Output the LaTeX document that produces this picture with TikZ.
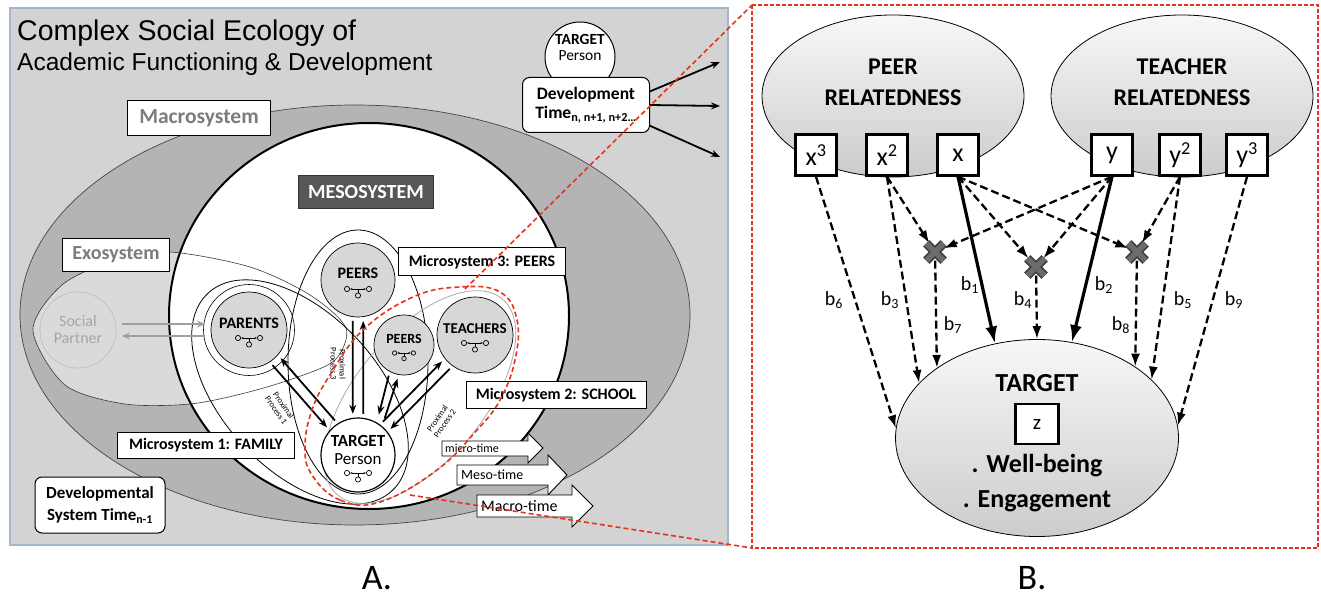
\documentclass[tikz,border=0pt]{standalone}
\usepackage{fontspec}
\setmainfont{Carlito}
\newfontfamily\titlefont{Liberation Sans}
\usetikzlibrary{arrows.meta,shapes.geometric}

\definecolor{panelgray}{HTML}{D3D3D3}
\definecolor{macrogray}{HTML}{B4B4B4}
\definecolor{exogray}{HTML}{DADADA}
\definecolor{actorgray}{HTML}{D7D7D7}
\definecolor{labelgray}{HTML}{7C7C7C}
\definecolor{mesogray}{HTML}{575757}
\definecolor{zoomred}{HTML}{E8331C}
\definecolor{frameblue}{HTML}{A3B5CB}

\newcommand{\fsz}[2]{\fontsize{#1}{#2}\selectfont}

\tikzset{
  sysbox/.style={draw, fill=white, line width=1pt, inner sep=0pt, font=\bfseries\fsz{16}{18}},
  graylbl/.style={sysbox, text=labelgray, font=\bfseries\fsz{21.5}{24}},
  actor/.style={circle, draw, fill=actorgray, line width=0.7pt, minimum size=76pt, inner sep=0pt},
  actorname/.style={inner sep=0pt, font=\bfseries\fsz{16}{18}},
  procarrow/.style={line width=1.8pt, -{Stealth[length=9pt,width=7pt]}, shorten >=4pt, shorten <=4pt},
  sparrow/.style={gray!75, line width=2pt, -{Stealth[length=8pt,width=7pt]}, shorten >=6pt, shorten <=6pt},
  futarrow/.style={line width=1.8pt, -{Stealth[length=9pt,width=7pt]}},
  proclabel/.style={align=center, inner sep=0pt, font=\fsz{8.5}{9}},
  timebox/.style={draw, fill=white, rounded corners=7pt, line width=1pt, inner sep=0pt, align=center, font=\bfseries\fsz{17.5}{19}},
  timearrow/.style={draw, fill=white, line width=0.9pt},
  zoomline/.style={zoomred, line width=1.6pt, dash pattern=on 5pt off 3pt},
  latent/.style={ellipse, draw, line width=0.8pt, top color=gray!6, bottom color=gray!40, inner sep=0pt},
  obs/.style={draw, fill=white, line width=2.5pt, minimum size=41pt, inner sep=0pt, font=\fsz{26}{28}},
  mult/.style={minimum size=17pt, inner sep=0pt},
  dasharrow/.style={line width=2.3pt, dash pattern=on 8pt off 4pt, -{Latex[length=13pt,width=9pt]}},
  solidarrow/.style={line width=3.2pt, -{Latex[length=17pt,width=12pt]}},
  blabel/.style={inner sep=0pt, font=\fsz{20}{22}},
  netglyph/.pic={
    \draw[line width=0.7pt] (-11,0) circle (2.6) (11,0) circle (2.6) (0,6.5) circle (2.6);
    \draw[line width=0.7pt, {Stealth[length=2.5pt]}-{Stealth[length=2.5pt]}] (-8,0) -- (8,0);
    \draw[line width=0.7pt] (0,0) -- (0,3.9);
  }
}

\begin{document}
\begin{tikzpicture}[x=1pt, y=-1pt]
\useasboundingbox (0,0) rectangle (1321,601);

% ---------- A. social ecology ----------
\draw[frameblue, fill=panelgray, line width=1.2pt] (10,8) rectangle (728,545);
\node[anchor=base west, inner sep=0pt, font=\titlefont\fsz{28.5}{32}] (title1) at (17,41) {Complex Social Ecology of};
\node[anchor=base west, inner sep=0pt, font=\titlefont\fsz{24.5}{28}] (title2) at (17,71) {Academic Functioning \& Development};

% systems
\draw[gray!55!black, fill=macrogray, line width=0.7pt] (355,315) ellipse [x radius=335, y radius=210];
\fill[exogray] plot[smooth cycle] coordinates {(33,330) (62,285) (115,260) (170,252) (250,267) (310,295) (346,328) (335,360) (295,378) (245,393) (190,404) (125,404) (65,385)};
\draw[line width=2pt, fill=white] (369,316) ellipse [x radius=200, y radius=193];
\draw[gray!45!black, line width=0.6pt] plot[smooth cycle] coordinates {(33,330) (62,285) (115,260) (170,252) (250,267) (310,295) (346,328) (335,360) (295,378) (245,393) (190,404) (125,404) (65,385)};
\draw[line width=0.8pt, rotate around={-47:(300,392)}] (300,392) ellipse [x radius=135, y radius=78];
\draw[line width=0.8pt] (358,362) ellipse [x radius=70, y radius=132];
\draw[gray!65, line width=0.8pt, rotate around={50:(420,397)}] (420,397) ellipse [x radius=128, y radius=64];

% actors
\node[actor, draw=gray!50, fill=exogray, align=center, text=gray!70, font=\fsz{16}{17}] (social) at (78,330) {Social\\Partner};
\node[circle, draw, line width=0.6pt, minimum size=91pt] (parents-ring) at (249,330) {};
\node[actor] (parents) at (249,330) {};
\node[actorname] (parents-t) at (249,323) {PARENTS};
\pic at (249,338) {netglyph};
\node[actor, minimum size=74pt] (peers) at (358,280) {};
\node[actorname] (peers-t) at (358,273) {PEERS};
\pic at (358,289) {netglyph};
\node[actor, minimum size=60pt] (peers2) at (404,345) {};
\node[actorname, font=\bfseries\fsz{14}{16}] (peers2-t) at (404,339) {PEERS};
\pic[scale=0.85] at (404,353) {netglyph};
\node[actor] (teachers) at (475,335) {};
\node[actorname, font=\bfseries\fsz{15}{17}] (teachers-t) at (475,329) {TEACHERS};
\pic at (475,343) {netglyph};
\node[actor, fill=white, line width=1.2pt, minimum size=74pt] (tgt) at (358,455) {};
\node[align=center, inner sep=0pt, font=\fsz{17}{18}] (tgt-t) at (358,450) {\textbf{TARGET}\\Person};
\pic at (358,473) {netglyph};

% proximal processes
\draw[sparrow] (social.9) -- (parents.171);
\draw[sparrow] (parents.189) -- (social.-9);
\draw[procarrow] (tgt.123) -- (parents.-41);
\draw[procarrow] (parents.-57) -- (tgt.139);
\draw[procarrow] (peers.-98) -- (tgt.98);
\draw[procarrow] (tgt.82) -- (peers.-82);
\draw[procarrow, shorten >=8pt] (peers2.-118) -- (tgt.60);
\draw[procarrow, shorten <=8pt] (tgt.50) -- (peers2.-100);
\draw[procarrow] (tgt.54) -- (teachers.218);
\draw[procarrow] (teachers.234) -- (tgt.38);
\node[proclabel, rotate=-55] (pp1) at (280,408) {Proximal\\Process 1};
\node[proclabel, rotate=-90] (pp3) at (338,364) {Proximal\\Process 3};
\node[proclabel, rotate=55] (pp2) at (441,421) {Proximal\\Process 2};

% labels
\node[graylbl, minimum width=143pt, minimum height=35pt] (macro) at (199,118) {Macrosystem};
\node[graylbl, font=\bfseries\fsz{20}{22}, minimum width=107pt, minimum height=33pt] (exo) at (116,255) {Exosystem};
\node[draw=black!80, fill=mesogray, text=white, line width=1pt, inner sep=0pt, font=\bfseries\fsz{20}{22}, minimum width=135pt, minimum height=33pt] (meso) at (366,192) {MESOSYSTEM};
\node[sysbox, minimum width=167pt, minimum height=28pt] (micro3) at (482,262) {Microsystem 3: PEERS};
\node[sysbox, minimum width=180pt, minimum height=27pt] (micro2) at (556,395) {Microsystem 2: SCHOOL};
\node[sysbox, minimum width=177pt, minimum height=26pt] (micro1) at (206,445) {Microsystem 1: FAMILY};
\node[timebox, minimum width=130pt, minimum height=56pt, font=\bfseries\fsz{17}{22}] (devsys) at (100,505) {Developmental\\System Time\textsubscript{n-1}};

% time arrows
\draw[timearrow] (442,441) -- (528,441) -- (528,433) -- (543,448) -- (528,463) -- (528,456) -- (442,456) -- cycle;
\node[anchor=west, inner sep=0pt, font=\fsz{12}{13}] (microtime) at (445,448) {micro-time};
\draw[timearrow] (457,465) -- (548,465) -- (548,455) -- (567,475) -- (548,495) -- (548,485) -- (457,485) -- cycle;
\node[anchor=west, inner sep=0pt, font=\fsz{14}{15}] (mesotime) at (461,475) {Meso-time};
\draw[timearrow] (477,495) -- (572,495) -- (572,485) -- (593,506) -- (572,527) -- (572,517) -- (477,517) -- cycle;
\node[anchor=west, inner sep=0pt, font=\fsz{16}{17}] (macrotime) at (481,506) {Macro-time};

% target over time
\node[circle, draw, fill=white, line width=1pt, minimum size=70pt, inner sep=0pt] (tp) at (580,57) {};
\node[align=center, inner sep=0pt, font=\fsz{15.5}{16}] (tp-t) at (580,47) {\textbf{TARGET}\\Person};
\node[timebox, minimum width=127pt, minimum height=55pt] (devtime) at (586,105) {Development\\Time\textsubscript{n, n+1, n+2\ldots}};
\coordinate (fut1) at (720,62);
\coordinate (fut2) at (720,106);
\coordinate (fut3) at (720,157);
\draw[futarrow] (devtime.12) -- (fut1);
\draw[futarrow] (devtime.east) -- (fut2);
\draw[futarrow] (devtime.-18) -- (fut3);

% zoom into the school microsystem
\draw[zoomline] plot[smooth cycle, tension=0.7] coordinates {(380,502) (340,500) (312,475) (305,447) (312,410) (330,375) (363,330) (413,297) (460,287) (500,292) (517,320) (515,360) (500,400) (477,430) (437,470)};
\coordinate (red-top) at (465,289);
\coordinate (red-bot) at (410,495);
\coordinate (frame-nw) at (752,5);
\coordinate (frame-sw) at (752,548);
\draw[zoomline] (red-top) -- (frame-nw);
\draw[zoomline] (red-bot) -- (frame-sw);
\draw[zoomred, line width=1.3pt, dash pattern=on 4pt off 2pt] (frame-nw) rectangle (1318,548);

% ---------- B. path model ----------
\node[latent, minimum width=262pt, minimum height=162pt] (peer) at (893,96) {};
\node[align=center, inner sep=0pt, font=\bfseries\fsz{24}{31}] (peer-t) at (893,82) {PEER\\RELATEDNESS};
\node[latent, minimum width=262pt, minimum height=162pt] (teacher) at (1182,96) {};
\node[align=center, inner sep=0pt, font=\bfseries\fsz{24}{31}] (teacher-t) at (1182,82) {TEACHER\\RELATEDNESS};

\node[obs] (x3) at (816,155) {x\textsuperscript{3}};
\node[obs] (x2) at (887,155) {x\textsuperscript{2}};
\node[obs] (x1) at (958,155) {x};
\node[obs] (y1) at (1112,155) {y};
\node[obs] (y2) at (1180,155) {y\textsuperscript{2}};
\node[obs] (y3) at (1247,155) {y\textsuperscript{3}};

\node[mult] (m1) at (935,252) {};
\node[mult] (m2) at (1036,267) {};
\node[mult] (m3) at (1137,252) {};

\node[latent, minimum width=283pt, minimum height=197pt] (target) at (1037,438) {};
\node[inner sep=0pt, font=\bfseries\fsz{26}{28}] (target-t) at (1037,383) {TARGET};
\node[draw, fill=white, line width=2.5pt, minimum width=43pt, minimum height=40pt, inner sep=0pt, font=\fsz{21}{22}] (z) at (1037,424) {z};
\node[inner sep=0pt, font=\bfseries\fsz{26}{28}] (wellbeing) at (1037,466) {. Well-being};
\node[inner sep=0pt, font=\bfseries\fsz{26}{28}] (engagement) at (1037,501) {. Engagement};

% interaction terms
\draw[dasharrow] (x2.south) -- (m1);
\draw[dasharrow] (y1.south) -- (m1);
\draw[dasharrow] (x1.south) -- (m2);
\draw[dasharrow] (y1.south) -- (m2);
\draw[dasharrow] (x1.south) -- (m3);
\draw[dasharrow] (y2.south) -- (m3);
\foreach \m in {m1,m2,m3} {
  \draw[line width=9pt, black!75] (\m.north west) -- (\m.south east) (\m.north east) -- (\m.south west);
  \draw[line width=5.5pt, gray!55!black!80] (\m.north west) -- (\m.south east) (\m.north east) -- (\m.south west);
}

% effects on target
\draw[dasharrow] (x3.south) -- (target.176);
\draw[dasharrow] (x2.south) -- (target.155);
\draw[dasharrow] (m1) -- (target.145);
\draw[solidarrow] (x1.south) -- (target.114);
\draw[dasharrow] (m2) -- (target.90);
\draw[solidarrow] (y1.south) -- (target.70);
\draw[dasharrow] (m3) -- (target.36);
\draw[dasharrow] (y2.south) -- (target.27);
\draw[dasharrow] (y3.south) -- (target.5);

\node[blabel] (b6) at (834,300) {b\textsubscript{6}};
\node[blabel] (b3) at (890,300) {b\textsubscript{3}};
\node[blabel] (b7) at (953,325) {b\textsubscript{7}};
\node[blabel] (b1) at (970,285) {b\textsubscript{1}};
\node[blabel] (b4) at (1023,300) {b\textsubscript{4}};
\node[blabel] (b2) at (1104,285) {b\textsubscript{2}};
\node[blabel] (b8) at (1121,325) {b\textsubscript{8}};
\node[blabel] (b5) at (1183,300) {b\textsubscript{5}};
\node[blabel] (b9) at (1234,300) {b\textsubscript{9}};

% panel letters
\node[inner sep=0pt, font=\fsz{36}{38}] (lbl-a) at (377,578) {A.};
\node[inner sep=0pt, font=\fsz{36}{38}] (lbl-b) at (1032,578) {B.};
\end{tikzpicture}
\end{document}
